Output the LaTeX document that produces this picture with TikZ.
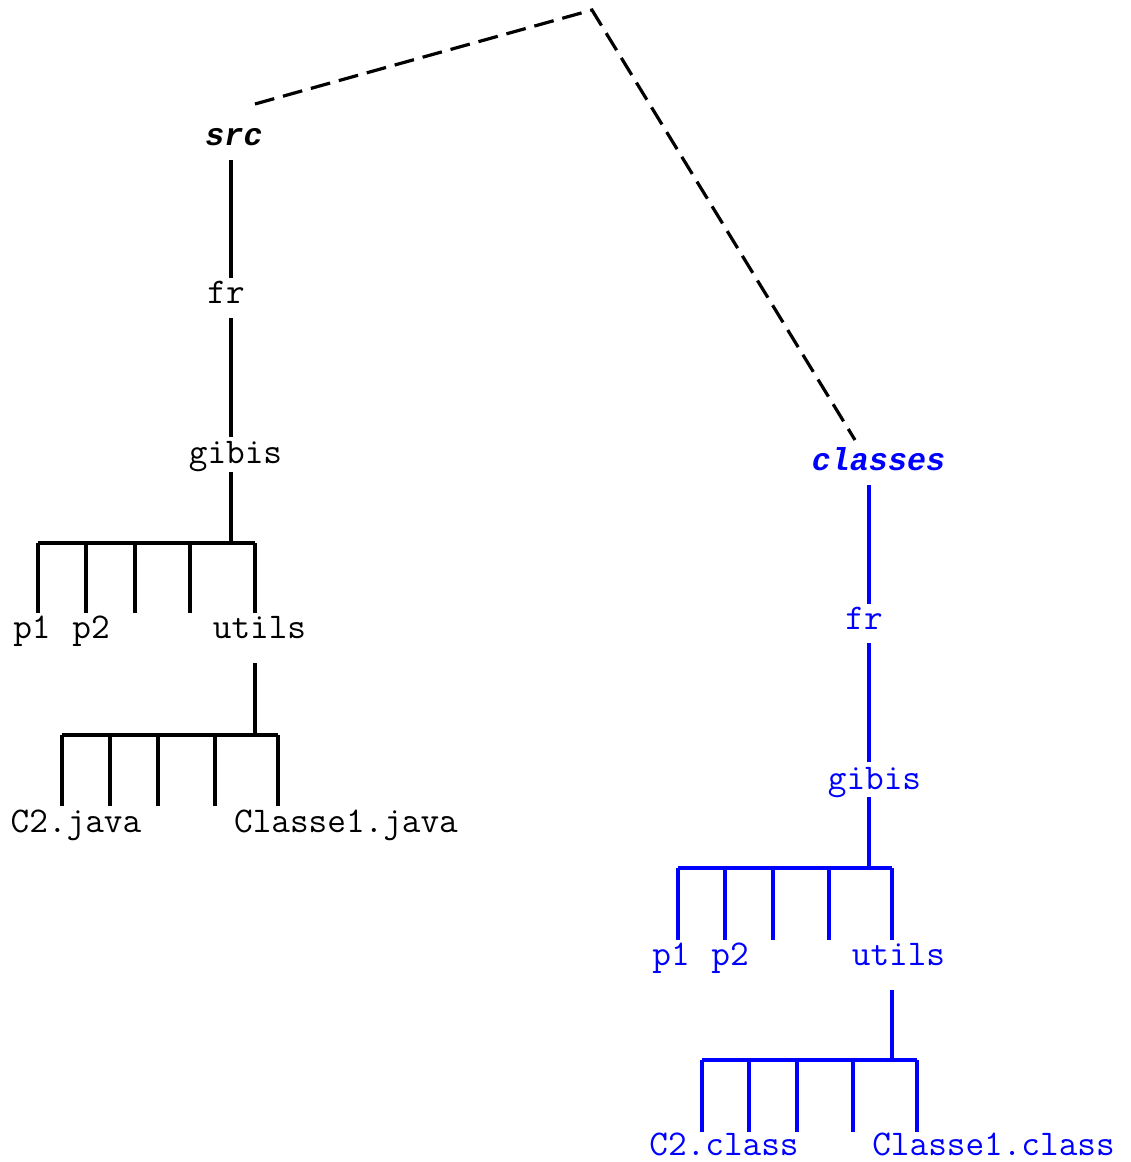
\documentclass[tikz,border=0pt]{standalone}
\usepackage{fontspec}
\newfontfamily\rootfont{Liberation Mono}
\begin{document}
\begin{tikzpicture}[x=1pt,y=-1pt,
  lbl/.style={anchor=base,inner sep=0pt,font=\fontsize{36.2}{40}\selectfont\ttfamily},
  rootlbl/.style={lbl,font=\fontsize{31.7}{38}\selectfont\rootfont\bfseries\itshape},
  branch/.style={line width=3.2pt},
  dashline/.style={line width=3.2pt,dash pattern=on 20pt off 9pt}]
\useasboundingbox (0,0) rectangle (1130,1162);
% ---------- root dashed ----------
\coordinate (top) at (592,10);
\coordinate (srcTop) at (255,104);
\coordinate (clsTop) at (855,440);
\draw[dashline] (srcTop) -- (top) -- (clsTop);
% ---------- left tree (src) ----------
\begin{scope}
\node[rootlbl] (src) at (234,145) {src};
\node[lbl] (fr) at (226,303) {fr};
\node[lbl] (gibis) at (235.5,463) {gibis};
\node[lbl] (p1) at (32,638) {p1};
\node[lbl] (p2) at (91,638) {p2};
\node[lbl] (utils) at (259.5,638) {utils};
\node[lbl] (c2) at (76,832) {C2.java};
\node[lbl] (cl1) at (346,832) {Classe1.java};
\coordinate (a1) at (231,160); \coordinate (a2) at (231,278);
\coordinate (a3) at (231,318); \coordinate (a4) at (231,437);
\coordinate (a5) at (231,472); \coordinate (a6) at (231,543);
\draw[branch] (a1) -- (a2);
\draw[branch] (a3) -- (a4);
\draw[branch] (a5) -- (a6);
\coordinate (b0) at (38,543); \coordinate (b1) at (86,543); \coordinate (b2) at (135,543);
\coordinate (b3) at (190,543); \coordinate (b4) at (255,543);
\draw[branch] (b0) -- (b4);
\foreach \n in {0,...,4} { \draw[branch] (b\n) -- ++(0,70); }
\coordinate (u1) at (255,663); \coordinate (u2) at (255,735);
\draw[branch] (u1) -- (u2);
\coordinate (d0) at (62,735); \coordinate (d1) at (110,735); \coordinate (d2) at (158,735);
\coordinate (d3) at (215,735); \coordinate (d4) at (278,735);
\draw[branch] (d0) -- (d4);
\foreach \n in {0,...,4} { \draw[branch] (d\n) -- ++(0,71); }
\end{scope}
% ---------- right tree (classes) ----------
\begin{scope}[blue]
\node[rootlbl,text=blue] (cls) at (878.5,470) {classes};
\node[lbl,text=blue] (rfr) at (864,629) {fr};
\node[lbl,text=blue] (rgibis) at (874.5,789) {gibis};
\node[lbl,text=blue] (rp1) at (671,965) {p1};
\node[lbl,text=blue] (rp2) at (730,965) {p2};
\node[lbl,text=blue] (rutils) at (898.5,965) {utils};
\node[lbl,text=blue] (rc2) at (724,1155) {C2.class};
\node[lbl,text=blue] (rcl1) at (993.5,1155) {Classe1.class};
\coordinate (e1) at (869,485); \coordinate (e2) at (869,604);
\coordinate (e3) at (869,643); \coordinate (e4) at (869,762);
\coordinate (e5) at (869,797); \coordinate (e6) at (869,868);
\draw[branch] (e1) -- (e2);
\draw[branch] (e3) -- (e4);
\draw[branch] (e5) -- (e6);
\coordinate (f0) at (678,868); \coordinate (f1) at (725,868); \coordinate (f2) at (773,868);
\coordinate (f3) at (829,868); \coordinate (f4) at (892,868);
\draw[branch] (f0) -- (f4);
\foreach \n in {0,...,4} { \draw[branch] (f\n) -- ++(0,72); }
\coordinate (v1) at (892,990); \coordinate (v2) at (892,1060);
\draw[branch] (v1) -- (v2);
\coordinate (g0) at (702,1060); \coordinate (g1) at (749,1060); \coordinate (g2) at (797,1060);
\coordinate (g3) at (853,1060); \coordinate (g4) at (917,1060);
\draw[branch] (g0) -- (g4);
\foreach \n in {0,...,4} { \draw[branch] (g\n) -- ++(0,72); }
\end{scope}
\end{tikzpicture}
\end{document}
